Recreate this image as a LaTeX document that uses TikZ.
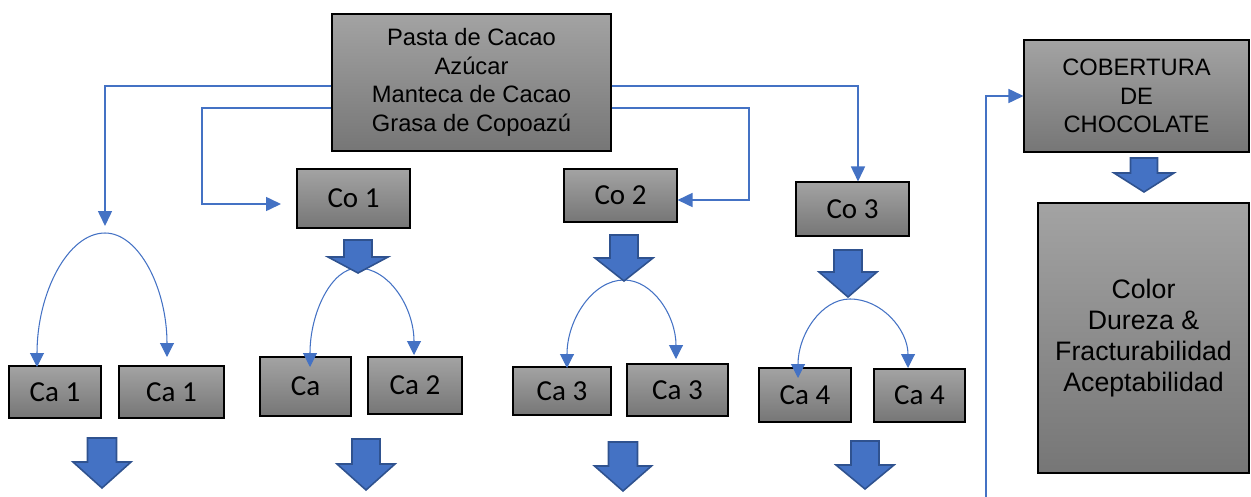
\documentclass[tikz,border=0pt]{standalone}
\usepackage{fontspec}
\setmainfont{Liberation Sans}
\newfontfamily\calib{Carlito}
\usetikzlibrary{arrows.meta,calc}
\definecolor{lnblue}{RGB}{68,114,196}
\definecolor{bdblue}{RGB}{47,82,143}
\definecolor{gtop}{RGB}{163,163,163}
\definecolor{gbot}{RGB}{118,118,118}
\newcommand\BArrow[6]{\draw[blockarrow] (#1-#5,#2) -- (#1+#5,#2) -- (#1+#5,#3) -- (#1+#6,#3) -- (#1,#4) -- (#1-#6,#3) -- (#1-#5,#3) -- cycle;}
% name, x1, y1, x2, y2, style, text
\newcommand\BoxAt[7]{\node[box, #6, minimum width={(#4-#2)*0.02cm}, minimum height={(#5-#3)*0.02cm}] (#1) at ({(#2+#4)/2},{(#3+#5)/2}) {#7};}
\begin{document}
\begin{tikzpicture}[x=0.02cm,y=-0.02cm,
 box/.style={draw=black, line width=0.6pt, top color=gtop, bottom color=gbot, inner sep=0pt, align=center},
 arialtxt/.style={font=\fontsize{13.5}{16.2}\selectfont},
 bigtxt/.style={font=\fontsize{15.2}{17.6}\selectfont},
 calitxt/.style={font=\calib\fontsize{16.5}{19}\selectfont},
 conn/.style={draw=lnblue, line width=0.9pt, -{Triangle[length=0.3cm,width=0.28cm]}},
 arcconn/.style={draw=lnblue, line width=0.6pt, -{Triangle[length=0.28cm,width=0.28cm]}},
 blockarrow/.style={fill=lnblue, draw=bdblue, line width=0.9pt, line join=miter}]
\useasboundingbox (0,0) rectangle (1251,497);

% boxes
\BoxAt{top}{332}{14}{611}{151}{arialtxt}{Pasta de Cacao\\Azúcar\\Manteca de Cacao\\Grasa de Copoazú}
\BoxAt{co1}{297}{169}{410}{228}{calitxt}{Co 1}
\BoxAt{co2}{564}{169}{677}{222}{calitxt}{Co 2}
\BoxAt{co3}{796}{182}{909}{236}{calitxt}{Co 3}
\BoxAt{ca1a}{9}{366}{101}{418}{calitxt}{Ca 1}
\BoxAt{ca1b}{119}{366}{224}{418}{calitxt}{Ca 1}
\BoxAt{ca2a}{260}{357}{351}{416}{calitxt}{Ca}
\BoxAt{ca2b}{368}{357}{462}{414}{calitxt}{Ca 2}
\BoxAt{ca3a}{513}{367}{611}{415}{calitxt}{Ca 3}
\BoxAt{ca3b}{627}{364}{728}{416}{calitxt}{Ca 3}
\BoxAt{ca4a}{759}{368}{851}{422}{calitxt}{Ca 4}
\BoxAt{ca4b}{874}{369}{965}{422}{calitxt}{Ca 4}
\BoxAt{cob}{1024}{40}{1249}{152}{arialtxt}{COBERTURA\\DE\\CHOCOLATE}
\BoxAt{res}{1038}{203}{1249}{473}{bigtxt}{Color\\Dureza \&\\Fracturabilidad\\Aceptabilidad}

% free ends
\coordinate (c1) at (105,226);
\coordinate (c2) at (281,204);
\coordinate (c5) at (986,497);

% connectors from the top box
\draw[conn] (top.west |- 0,86) -| (c1);
\draw[conn] (top.west |- 0,108) -- (202,108) |- (c2);
\draw[conn] (top.east |- 0,86) -| (858,0 |- co3.north);
\draw[conn] (top.east |- 0,108) -- (749,108) |- (co2.east |- 0,200);
\draw[conn] (c5) |- (cob.west);

% arc apexes and ends
\coordinate (a1) at (105,233);
\coordinate (a2) at (358,268);
\coordinate (a3) at (624,280);
\coordinate (a4) at (850,299);
\coordinate (e1l) at (37,367);
\coordinate (e1r) at (167,357);
\coordinate (e2l) at (310,367);
\coordinate (e2r) at (414,355);
\coordinate (e3l) at (567,368);
\coordinate (e3r) at (676,359);
\coordinate (e4l) at (798,378);
\coordinate (e4r) at (908,368);

\draw[arcconn] (a1) .. controls (67.6,233) and (37,293.3) .. (e1l);
\draw[arcconn] (a1) .. controls (139.1,233) and (167,288.8) .. (e1r);
\draw[arcconn] (a2) .. controls (331.6,268) and (310,312.5) .. (e2l);
\draw[arcconn] (a2) .. controls (388.8,268) and (414,307.2) .. (e2r);
\draw[arcconn] (a3) .. controls (592.7,280) and (567,319.6) .. (e3l);
\draw[arcconn] (a3) .. controls (652.6,280) and (676,315.5) .. (e3r);
\draw[arcconn] (a4) .. controls (821.4,299) and (798,334.5) .. (e4l);
\draw[arcconn] (a4) .. controls (881.9,299) and (908,330) .. (e4r);

% block arrows
\BArrow{358}{240}{257}{273}{14}{30}
\BArrow{624}{235}{258}{281}{14}{29}
\BArrow{848}{250}{272}{297}{14}{29}
\BArrow{1144}{158}{173}{192}{13.5}{30}
\BArrow{102}{438}{462}{488}{14.5}{29}
\BArrow{366}{439}{464}{490}{14}{29}
\BArrow{623}{442}{466}{491}{14.5}{28.5}
\BArrow{865}{441}{465}{489}{14}{29}
\end{tikzpicture}
\end{document}
